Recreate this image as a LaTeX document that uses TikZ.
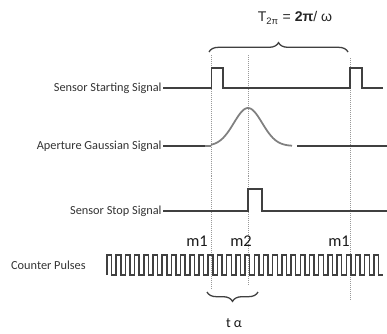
\documentclass[tikz,border=0pt]{standalone}
\usepackage{fontspec}
\setmainfont{Carlito}
\newfontfamily\titlefont{Liberation Sans}
\usetikzlibrary{decorations.pathreplacing}

\begin{document}
\begin{tikzpicture}[x=0.3mm,y=-0.3mm,
  sig/.style={line width=1.5pt,black!75},
  gauss/.style={line width=1.5pt,black!50},
  guide/.style={densely dotted,black!40,line width=0.7pt},
  lbl/.style={anchor=east,inner sep=1pt,text=black!80,font=\fontsize{10.5}{12}\selectfont},
  mlbl/.style={inner sep=0pt,text=black!90,font=\fontsize{14}{16}\selectfont},
  brc/.style={decorate,decoration={brace,amplitude=8pt},line width=1.1pt,black!75}]
\useasboundingbox (0,0) rectangle (387,333);

% row labels
\node[lbl] (ss) at (163,88) {Sensor Starting Signal};
\node[lbl] (ag) at (163,146) {Aperture Gaussian Signal};
\node[lbl] (sp) at (163,211) {Sensor Stop Signal};
\node[lbl] (cp) at (87,265) {Counter Pulses};

% marker lines
\draw[guide] (211.5,55) -- (211.5,290);
\draw[guide] (248.5,55) -- (248.5,285);
\draw[guide] (350,58) -- (350,300);

% signals
\draw[sig] (ss.east) -- (211.5,88) |- (223,68) |- (350,88) |- (362,68) |- (383,88);
\draw[sig] (ag.east) -- (205,146);
\draw[gauss] (205,146) -- (211,146) plot[smooth,domain=211:292,samples=60] (\x,{146-38*exp(-((\x-248)/20)^2)});
\draw[sig] (297,146) -- (387,146);
\draw[sig] (sp.east) -- (248,211) |- (262,189) |- (387,211);
\draw[sig,line width=1.2pt] (107,275) foreach \i in {0,...,29} { -- ++(0,-20) -- ++(4.6,0) -- ++(0,20) -- ++(4.6,0) };

% period and delay
\draw[brc] (209,52) -- (348,52);
\node[font=\titlefont\fontsize{12}{14}\selectfont,text=black!85] (tp) at (295,18) {T\textsubscript{2π} = \textbf{2π}/ ω};
\node[mlbl] (l1) at (197,241) {m1};
\node[mlbl] (l2) at (241,241) {m2};
\node[mlbl] (l3) at (339,241) {m1};
\draw[brc] (258,292) -- (207,292);
\node[mlbl,font=\fontsize{12}{14}\selectfont] (ta) at (234,323) {t α};
\end{tikzpicture}
\end{document}
